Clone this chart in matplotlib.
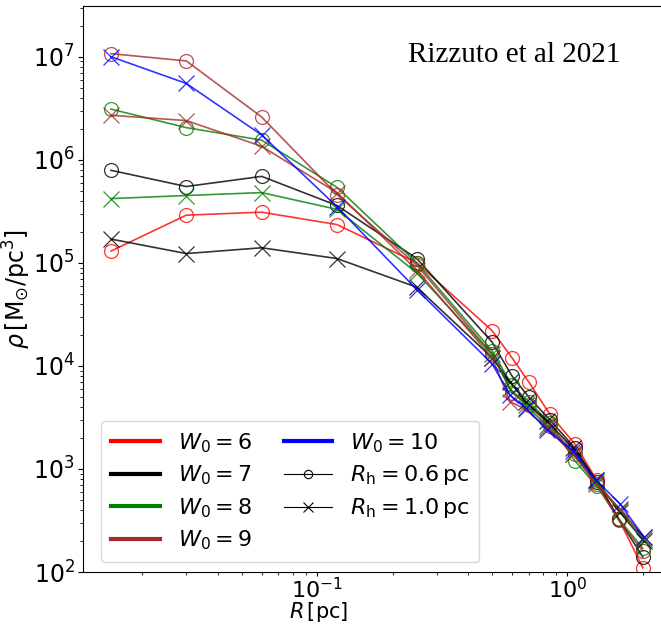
import matplotlib
matplotlib.use("Agg")
import matplotlib.pyplot as plt
from matplotlib.lines import Line2D

# radii [pc] of the density bins
rInner = [0.015, 0.03, 0.06, 0.12, 0.25, 0.5]
rTail06 = [0.6, 0.7, 0.85, 1.07, 1.31, 1.6, 2.0]
rTail10 = [0.59, 0.68, 0.83, 1.05, 1.3, 1.62, 2.02]

w0Values = [6, 7, 8, 9, 10]
w0Colors = ["red", "black", "green", "brown", "blue"]

# density [Msun/pc^3], Rh = 0.6 pc (circles)
rho06 = {
	6: [1.3e5, 2.9e5, 3.1e5, 2.35e5, 1.0e5, 2.2e4, 1.2e4, 7.0e3, 3.4e3, 1.75e3, 7.8e2, 3.3e2, 1.1e2],
	7: [7.9e5, 5.5e5, 6.9e5, 3.6e5, 1.1e5, 1.7e4, 8.0e3, 5.0e3, 3.0e3, 1.6e3, 7.5e2, 3.3e2, 1.4e2],
	8: [3.1e6, 2.05e6, 1.55e6, 5.4e5, 1.0e5, 1.4e4, 6.5e3, 4.5e3, 2.8e3, 1.2e3, 6.8e2, 3.3e2, 1.7e2],
	9: [1.07e7, 9.1e6, 2.6e6, 4.6e5, 9.5e4, 1.3e4, 5.5e3, 4.2e3, 2.6e3, 1.4e3, 7.2e2, 3.2e2, 1.6e2],
}
# density [Msun/pc^3], Rh = 1.0 pc (crosses)
rho10 = {
	7: [1.7e5, 1.23e5, 1.4e5, 1.1e5, 5.8e4, 1.2e4, 7.0e3, 4.5e3, 2.9e3, 1.6e3, 7.8e2, 3.8e2, 2.0e2],
	8: [4.2e5, 4.5e5, 4.8e5, 3.3e5, 8.0e4, 1.3e4, 6.0e3, 4.2e3, 2.6e3, 1.4e3, 7.5e2, 4.0e2, 2.1e2],
	9: [2.7e6, 2.4e6, 1.35e6, 4.8e5, 8.5e4, 1.2e4, 4.5e3, 3.8e3, 2.5e3, 1.4e3, 7.2e2, 4.1e2, 2.2e2],
	10: [1.0e7, 5.5e6, 1.74e6, 3.5e5, 5.5e4, 1.05e4, 5.2e3, 3.9e3, 2.4e3, 1.5e3, 7.8e2, 4.6e2, 2.2e2],
}

plt.rcParams["mathtext.fontset"] = "dejavusans"
fig = plt.figure(figsize = (6.61, 6.24), dpi = 100)
ax = fig.add_axes([0.1256, 0.0833, 0.89, 0.907])

colorOf = dict(zip(w0Values, w0Colors))
for w0, rho in rho06.items():
	ax.plot(rInner + rTail06, rho, color = colorOf[w0], marker = "o", ms = 10,
		mfc = "none", mew = 0.9, lw = 1.2, alpha = 0.8)
for w0, rho in rho10.items():
	ax.plot(rInner + rTail10, rho, color = colorOf[w0], marker = "x", ms = 12,
		mew = 0.9, lw = 1.2, alpha = 0.8)

ax.set_xscale("log")
ax.set_yscale("log")
ax.set_xlim(0.0116, 2.6)
ax.set_ylim(1e2, 3.1e7)
ax.tick_params(axis = "y", labelsize = 17)
ax.tick_params(axis = "x", labelsize = 16)
ax.tick_params(axis = "x", which = "major", length = 3, pad = 0.5)
ax.tick_params(axis = "y", which = "major", pad = 2.5)
ax.tick_params(axis = "both", which = "minor", length = 2)
ax.set_xlabel(r"$R\,[\mathrm{pc}]$", fontsize = 15)
ax.set_ylabel(r"$\rho\,[\mathrm{M_{\odot}/pc^3}]$", fontsize = 17)
ax.xaxis.set_label_coords(0.40, -0.050)
ax.yaxis.set_label_coords(-0.085, 0.5)

ax.text(0.913, 0.914, "Rizzuto et al 2021", transform = ax.transAxes, ha = "right",
	va = "center", fontsize = 21, family = "Liberation Serif")

handles = [Line2D([], [], color = c, lw = 3) for c in w0Colors]
labels = [r"$W_0 = %d$" % w for w in w0Values]
handles += [Line2D([], [], color = "black", lw = 0.8, marker = "o", mfc = "none", ms = 6, mew = 0.8),
	Line2D([], [], color = "black", lw = 0.8, marker = "x", ms = 7, mew = 0.8)]
labels += [r"$R_\mathrm{h} = 0.6\,\mathrm{pc}$", r"$R_\mathrm{h} = 1.0\,\mathrm{pc}$"]
ax.legend(handles, labels, loc = "lower left", ncol = 2, fontsize = 16,
	bbox_to_anchor = (0.012, -0.002), handlelength = 2.2, columnspacing = 1.4,
	labelspacing = 0.40, borderpad = 0.45)

fig.savefig("out.png", dpi = 100)
